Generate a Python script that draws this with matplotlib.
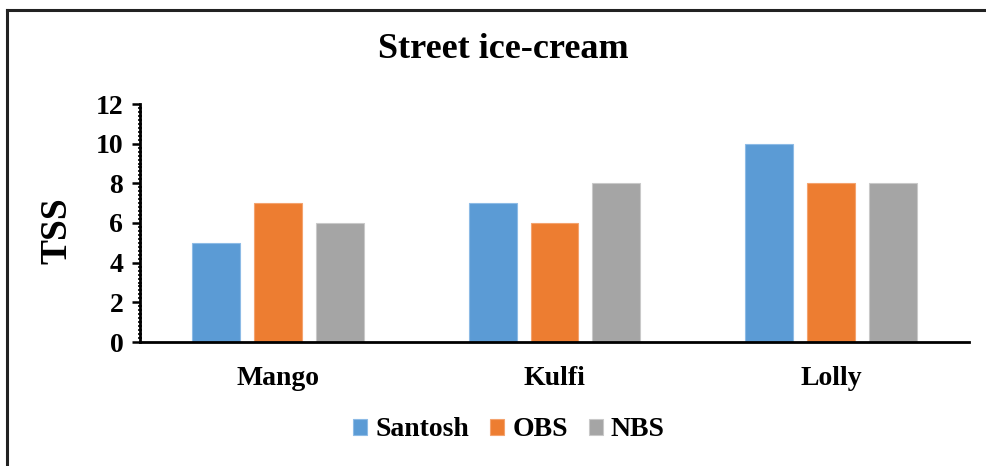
import matplotlib
matplotlib.use("Agg")
import matplotlib.pyplot as plt
import numpy as np
from matplotlib.lines import Line2D
from matplotlib.ticker import MultipleLocator

categories = ["Mango", "Kulfi", "Lolly"]
series_names = ["Santosh", "OBS", "NBS"]
santosh = [5, 7, 10]
obs = [7, 6, 8]
nbs = [6, 8, 8]
colors = ["#5B9BD5", "#ED7D31", "#A5A5A5"]
edge_colors = ["#8DBBE6", "#F4A36E", "#C9C9C9"]
yticks = [0, 2, 4, 6, 8, 10, 12]

plt.rcParams['font.family'] = ['Liberation Serif', 'DejaVu Serif']
plt.rcParams['font.weight'] = 'bold'

fig = plt.figure(figsize=(9.87, 4.66), dpi=100)
ax = fig.add_axes([140/987, 1-342/466, 829/987, 238/466])

x = np.arange(len(categories))
width = 0.173
step = 0.224
for i, (vals, name) in enumerate(zip([santosh, obs, nbs], series_names)):
    ax.bar(x + (i-1)*step, vals, width, color=colors[i], edgecolor=edge_colors[i],
           linewidth=0.8, label=name, zorder=2)

ax.set_xlim(-0.5, 2.5)
ax.set_ylim(0, 12)
ax.set_yticks(yticks)
ax.yaxis.set_minor_locator(MultipleLocator(0.2))
ax.set_xticks(x)
ax.set_xticklabels(categories, fontsize=20, fontweight='bold')
ax.tick_params(axis='x', length=0, pad=17)
ax.tick_params(axis='y', which='major', length=6, width=1.8, direction='out', labelsize=20, pad=6)
ax.tick_params(axis='y', which='minor', length=3, width=1.2, direction='inout')
for lab in ax.get_yticklabels():
    lab.set_fontweight('bold')

for s in ['top', 'right']:
    ax.spines[s].set_visible(False)
ax.spines['left'].set_linewidth(2)
ax.spines['bottom'].set_linewidth(2)

ax.set_ylabel("TSS", fontsize=27, fontweight='bold', labelpad=12)
ax.yaxis.set_label_coords(-66/829, 0.47)
fig.text(503/987, 1-50/466, "Street ice-cream", fontsize=26, fontweight='bold',
         ha='center', va='center')

leg = fig.legend(loc='center', bbox_to_anchor=(509/987, 1-430/466), ncol=3, frameon=False,
                 handlelength=0.5, handleheight=0.5, handletextpad=0.3,
                 columnspacing=0.75, prop={'weight': 'bold', 'size': 20})

# figure border (top & left visible)
fig.add_artist(Line2D([7/987, 1.0], [1-9.5/466, 1-9.5/466], color='#222222', lw=2.2, transform=fig.transFigure))
fig.add_artist(Line2D([7/987, 7/987], [0, 1-9.5/466], color='#222222', lw=2.2, transform=fig.transFigure))

fig.savefig("out.png", dpi=100)
